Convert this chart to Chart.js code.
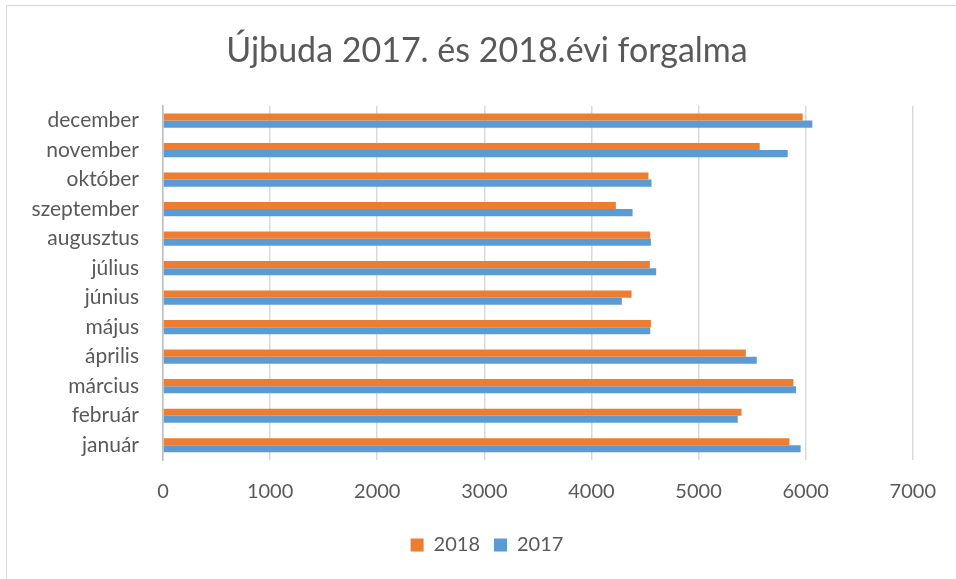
<!DOCTYPE html>
<html>
<head>
<meta charset="utf-8">
<script src="https://cdn.jsdelivr.net/npm/chart.js@4.4.1/dist/chart.umd.min.js"></script>
<style>
    html, body { margin: 0; padding: 0; background: #fff; }
    #frame {
        position: absolute; left: 6px; top: 5px; width: 960px; height: 590px;
        border-top: 1px solid #d9d9d9; border-left: 1px solid #d9d9d9;
    }
    #wrap { position: absolute; left: 0; top: 0; width: 956px; height: 579px; }
</style>
</head>
<body>
<div id="frame"></div>
<div id="wrap"><canvas id="chart" width="956" height="579"></canvas></div>
<script>
const months = ['december', 'november', 'október', 'szeptember', 'augusztus', 'július',
                'június', 'május', 'április', 'március', 'február', 'január'];
const sales2018 = [5972, 5571, 4532, 4228, 4549, 4545, 4374, 4555, 5441, 5885, 5401, 5848];
const sales2017 = [6062, 5832, 4561, 4384, 4555, 4604, 4284, 4549, 5543, 5910, 5366, 5953];
const xTicks = [0, 1000, 2000, 3000, 4000, 5000, 6000, 7000];

const FONT = 'Lato, "Open Sans", sans-serif';
const GREY = '#595959';

new Chart(document.getElementById('chart'), {
    type: 'bar',
    data: {
        labels: months,
        datasets: [
            { label: '2018', data: sales2018, backgroundColor: '#ed7d31' },
            { label: '2017', data: sales2017, backgroundColor: '#5b9bd5' }
        ]
    },
    options: {
        indexAxis: 'y',
        responsive: false,
        animation: false,
        categoryPercentage: 0.48,
        barPercentage: 1.0,
        // small left padding keeps title/legend centred like the original;
        // the empty right axis (yPad) reserves the space right of the plot
        layout: { padding: { left: 18, right: 0, top: 0, bottom: 14 } },
        plugins: {
            title: {
                display: true,
                text: 'Újbuda 2017. és 2018.évi forgalma',
                color: GREY,
                font: { family: FONT, size: 34, weight: 'normal' },
                padding: { top: 31, bottom: 34 }
            },
            legend: {
                position: 'bottom',
                labels: {
                    color: GREY,
                    font: { family: FONT, size: 20 },
                    boxWidth: 13,
                    boxHeight: 13,
                    padding: 14
                }
            },
            tooltip: { enabled: false }
        },
        scales: {
            x: {
                min: 0,
                max: 7000,
                afterBuildTicks: (scale) => { scale.ticks = xTicks.map(v => ({ value: v })); },
                grid: { color: '#d9d9d9', lineWidth: 1.5, drawTicks: false },
                border: { display: false },
                ticks: {
                    color: GREY,
                    font: { family: FONT, size: 20 },
                    padding: 20,
                    callback: (value) => String(value)
                },
                afterFit: (scale) => { scale.height = 61; }
            },
            y: {
                grid: { display: false, drawTicks: false },
                border: { color: '#bfbfbf', width: 1.5 },
                ticks: { color: GREY, font: { family: FONT, size: 21 }, padding: 24 },
                afterFit: (scale) => { scale.width = 145; }
            },
            yPad: {
                type: 'category',
                position: 'right',
                grid: { display: false, drawTicks: false },
                border: { display: false },
                ticks: { display: false },
                afterFit: (scale) => { scale.width = 42; }
            }
        }
    }
});
</script>
</body>
</html>
